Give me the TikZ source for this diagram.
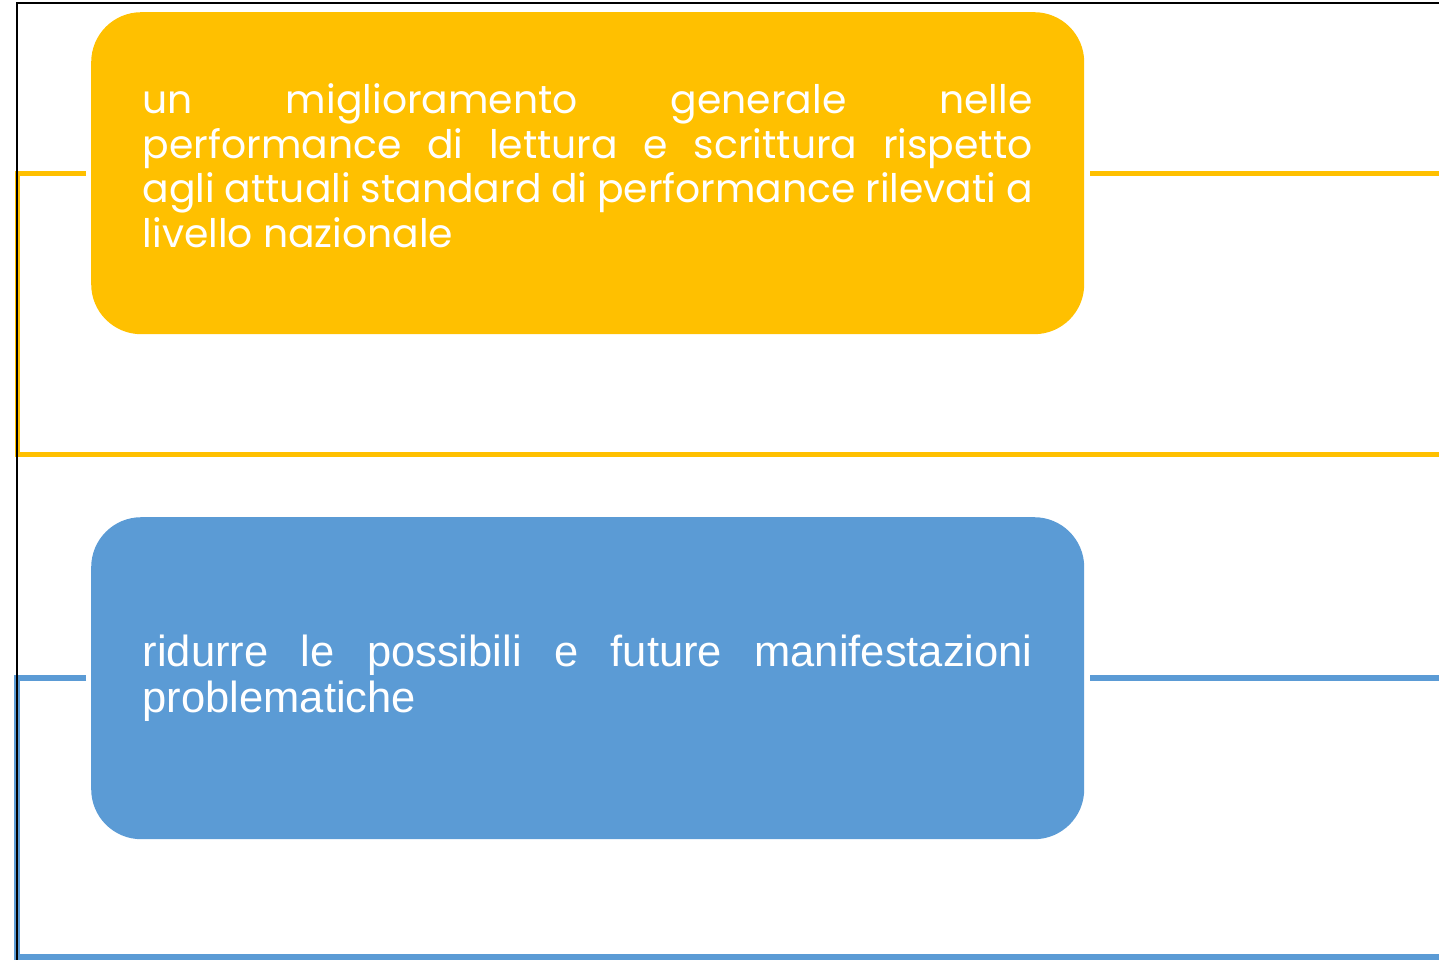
\documentclass[tikz,border=0pt]{standalone}
\usepackage{fontspec}
\newfontfamily\popfont{Poppins}
\newfontfamily\arialfont{Liberation Sans}
\definecolor{ygold}{HTML}{FFC000}
\definecolor{bblue}{HTML}{5B9BD5}
\begin{document}
\begin{tikzpicture}[x=1pt,y=-1pt,
  box/.style={rounded corners=50pt, minimum height=322pt, text width=890pt,
    inner xsep=51.5pt, inner ysep=0pt, align=justify, text=white, anchor=north west},
  yline/.style={draw=ygold, line width=5pt},
  bline/.style={draw=bblue, line width=5.5pt},
  frame/.style={draw=black, line width=2pt}]
\useasboundingbox (0,0) rectangle (1439,960);
\begin{scope}
\clip (0,0) rectangle (1439,960);
% boxes
\node[box, fill=ygold, font={\popfont\fontsize{39.3}{44.7}\selectfont\spaceskip=0.26em plus 0.6em minus 0.12em\tolerance=9999\hyphenpenalty=10000}] (ybox) at (91,12)
  {un miglioramento generale nelle\linebreak performance di lettura e scrittura rispetto\linebreak agli attuali standard di performance rilevati a\linebreak livello nazionale\par\vspace{15pt}};
\node[box, fill=bblue, font={\arialfont\fontsize{43.5}{46}\selectfont\hyphenpenalty=10000\tolerance=9999}] (bbox) at (91,517)
  {ridurre le possibili e future manifestazioni\linebreak problematiche};
% coordinates
\coordinate (yl) at ([xshift=-5pt]ybox.west);
\coordinate (yr) at ([xshift=6pt]ybox.east);
\coordinate (ycorner) at (17,454);
\coordinate (yend) at (1445,454);
\coordinate (yrend) at (1445,174);
\coordinate (bl) at ([xshift=-5pt]bbox.west);
\coordinate (br) at ([xshift=6pt]bbox.east);
\coordinate (bcorner) at (17,957);
\coordinate (bend) at (1445,957);
\coordinate (brend) at (1445,677);
% connectors
\draw[yline] (yl) -| (ycorner) -- (yend);
\draw[yline] (yr) -- (yr -| yrend);
\draw[bline] (bl) -| (bcorner) -- (bend);
\draw[bline] (br) -- (br -| brend);
% frame
\coordinate (ftl) at (17,3.5);
\draw[frame] (1445,3.5) -- (ftl) -- (17,965);
\end{scope}
\end{tikzpicture}
\end{document}
